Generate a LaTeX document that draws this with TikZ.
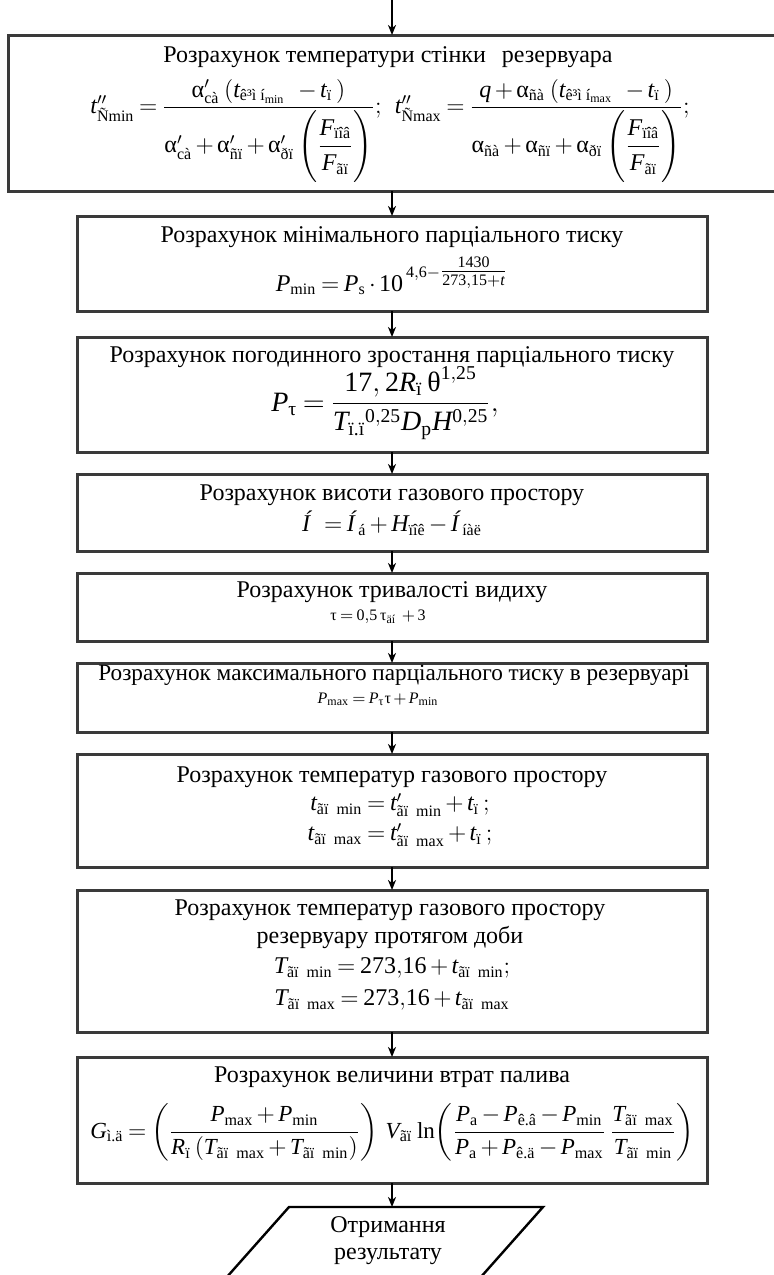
\documentclass[tikz,border=0pt]{standalone}
\usepackage{amsmath}
\usepackage{mathspec}
\setmainfont{Liberation Serif}
\setmathsfont(Digits,Latin,Greek){Liberation Serif}
\usetikzlibrary{arrows.meta}
\definecolor{boxgray}{HTML}{3A3A3A}
\newcommand{\tx}[1]{\text{#1}}
\newcommand{\ga}{\text{α}}
\newcommand{\gt}{\text{τ}}
\newcommand{\gth}{\text{θ}}
\begin{document}
\begin{tikzpicture}[x=0.5pt,y=-0.5pt]
\thickmuskip=3.5mu plus 2mu
\medmuskip=2.5mu plus 1mu minus 1mu
\tikzset{
  box/.style={draw=boxgray, line width=1.5pt, rectangle, inner sep=0pt, outer sep=0pt},
  ttl/.style={font=\fontsize{12}{14}\selectfont, inner sep=0pt, align=center},
  fml/.style={font=\fontsize{12}{14}\selectfont, inner sep=0pt},
  fmlbig/.style={font=\fontsize{13}{15}\selectfont, inner sep=0pt},
  fmlsmall/.style={font=\fontsize{8}{10}\selectfont, inner sep=0pt},
  arr/.style={-{Stealth[length=5pt,width=4pt,inset=1.5pt]}, line width=0.9pt, draw=black},
}
\useasboundingbox (0,0) rectangle (774,1275);

% boxes
\node[box, minimum width=384pt, minimum height=78pt]   (b1) at (392,113)   {};
\node[box, minimum width=315pt, minimum height=47.5pt] (b2) at (392,263.5) {};
\node[box, minimum width=315pt, minimum height=57.5pt] (b3) at (392,394.5) {};
\node[box, minimum width=315pt, minimum height=38.5pt] (b4) at (392,512.5) {};
\node[box, minimum width=315pt, minimum height=34pt]   (b5) at (392,607)   {};
\node[box, minimum width=315pt, minimum height=34.5pt] (b6) at (392,697.5) {};
\node[box, minimum width=315pt, minimum height=56.5pt] (b7) at (392,810.5) {};
\node[box, minimum width=315pt, minimum height=71pt]   (b8) at (392,961)   {};
\node[box, minimum width=315pt, minimum height=63pt]   (b9) at (392,1120)  {};

% output parallelogram
\coordinate (outtop) at (392,1207);
\draw[draw=black, line width=1.2pt] (289,1207) -- (543,1207) -- (480,1278) -- (226,1278) -- cycle;
\node[ttl, font=\fontsize{12}{13.5}\selectfont] (out) at (388,1241) {Отримання\\результату};

% titles
\node[ttl] (t1) at (388,57)  {Розрахунок температури стінки\hspace{8pt}резервуара};
\node[ttl] (t2) at (392,237) {Розрахунок мінімального парціального тиску};
\node[ttl] (t3) at (392,357) {Розрахунок погодинного зростання парціального тиску};
\node[ttl] (t4) at (392,495) {Розрахунок висоти газового простору};
\node[ttl] (t5) at (392,592) {Розрахунок тривалості видиху};
\node[ttl, font=\fontsize{11.6}{14}\selectfont] (t6) at (394,675) {Розрахунок максимального парціального тиску в резервуарі};
\node[ttl] (t7) at (392,777) {Розрахунок температур газового простору};
\node[ttl] (t8) at (390,924) {Розрахунок температур газового простору\\резервуару протягом доби};
\node[ttl] (t9) at (392,1077) {Розрахунок величини втрат палива};

% formulas
\node[fml] (f1) at (390,131) {$t''_{\tx{Ñmin}} =\dfrac{\ga'_{\tx{cà}}\;(t_{\tx{ê³ì í}_{\tx{min}}}\;\; - t_{\tx{ï}}\,)}{\ga'_{\tx{cà}} + \ga'_{\tx{ñï}} + \ga'_{\tx{ðï}} \left(\dfrac{F_{\tx{ïîâ}}\vphantom{\big|}}{F_{\tx{ãï}}\vphantom{\big|}}\right)};\;\; t''_{\tx{Ñmax}} =\dfrac{q + \ga_{\tx{ñà}}\;(t_{\tx{ê³ì í}_{\tx{max}}}\;\; - t_{\tx{ï}}\,)}{\ga_{\tx{ñà}} + \ga_{\tx{ñï}} + \ga_{\tx{ðï}} \left(\dfrac{F_{\tx{ïîâ}}\vphantom{\big|}}{F_{\tx{ãï}}\vphantom{\big|}}\right)};$};

\node[fml] (f2) at (392,276) {$P_{\tx{min}} = P_{\tx{s}}\cdot 10^{\,4{,}6-\genfrac{}{}{}{1}{1430}{273{,}15+t}}$};

\node[fmlbig, font=\fontsize{14}{16}\selectfont] (f3) at (385,403) {$P_{\gt} = \dfrac{17{,}\,2R_{\tx{ï}}\,\gth^{1{,}25}}{T_{\tx{ï.ï}}{}^{0{,}25}D_{\tx{p}}H^{0{,}25}},$};

\node[fml] (f4) at (392,523) {$\textit{Í}\;\; = \textit{Í}_{\;\tx{á}} + H_{\tx{ïîê}} - \textit{Í}_{\;\tx{íàë}}$};

\node[fmlsmall] (f5) at (378,617) {$\gt = 0{,}5\,\gt_{\tx{äí}}\; + 3$};

\node[fmlsmall] (f6) at (378,699) {$P_{\tx{max}} = P_{\gt}\gt + P_{\tx{min}}$};

\node[fml] (f7a) at (400,805) {$t_{\tx{ãï~~min}} = t'_{\tx{ãï~~min}} + t_{\tx{ï}}\,;$};
\node[fml] (f7b) at (400,835) {$t_{\tx{ãï~~max}} = t'_{\tx{ãï~~max}} + t_{\tx{ï}}\,;$};

\node[fml] (f8a) at (392,968) {$T_{\tx{ãï~~min}} = 273{,}16 + t_{\tx{ãï~~min}};$};
\node[fml] (f8b) at (392,1000) {$T_{\tx{ãï~~max}} = 273{,}16 + t_{\tx{ãï~~max}}$};

\node[fml, font=\fontsize{11.5}{14}\selectfont] (f9) at (392,1132) {$G_{\tx{ì.ä}} = \left(\dfrac{P_{\tx{max}} + P_{\tx{min}}}{R_{\tx{ï}}\left(T_{\tx{ãï~~max}} + T_{\tx{ãï~~min}}\right)}\right)\,V_{\tx{ãï}}\;\tx{ln}\!\left(\dfrac{P_{\tx{a}} - P_{\tx{ê.â}} - P_{\tx{min}}}{P_{\tx{a}} + P_{\tx{ê.ä}} - P_{\tx{max}}}\,\dfrac{T_{\tx{ãï~~max}}}{T_{\tx{ãï~~min}}}\right)$};

% connectors
\coordinate (start) at (392,0);
\draw[arr] (start) -- (b1.north);
\draw[arr] (b1.south) -- (b2.north);
\draw[arr] (b2.south) -- (b3.north);
\draw[arr] (b3.south) -- (b4.north);
\draw[arr] (b4.south) -- (b5.north);
\draw[arr] (b5.south) -- (b6.north);
\draw[arr] (b6.south) -- (b7.north);
\draw[arr] (b7.south) -- (b8.north);
\draw[arr] (b8.south) -- (b9.north);
\draw[arr] (b9.south) -- (outtop);
\end{tikzpicture}
\end{document}
